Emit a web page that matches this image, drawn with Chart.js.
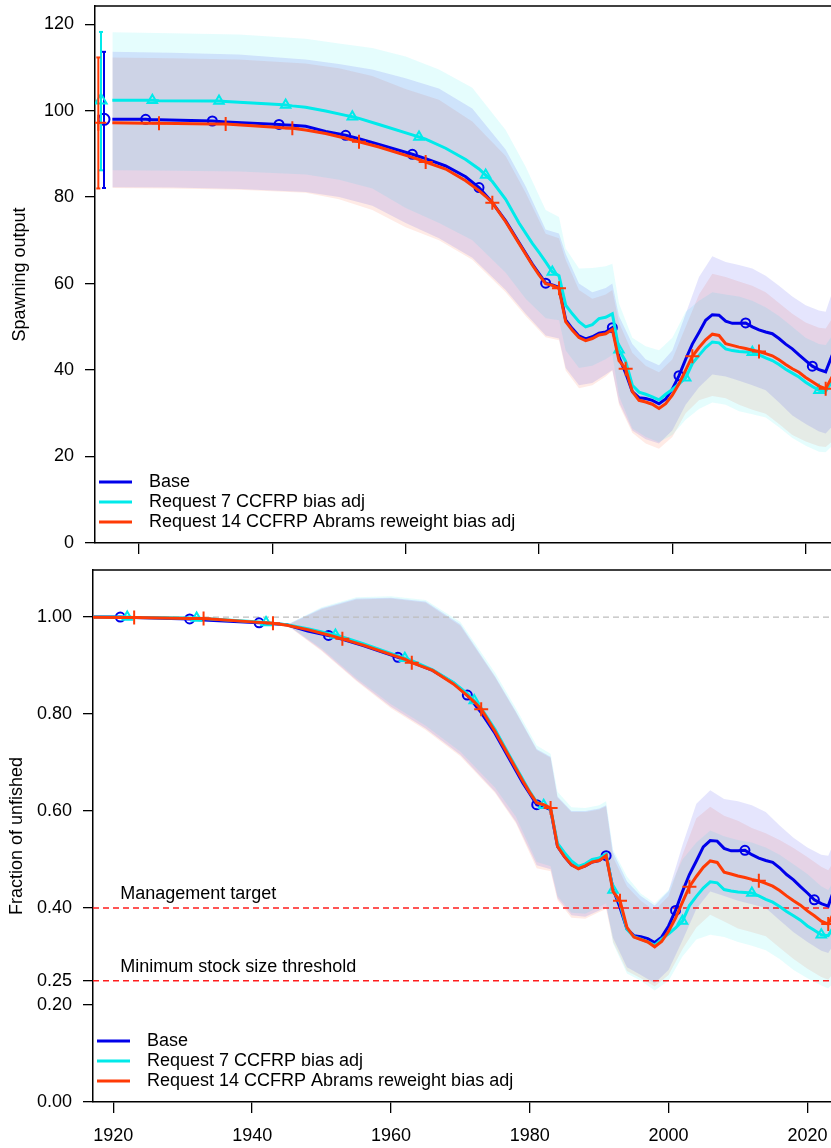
<!DOCTYPE html>
<html>
<head>
<meta charset="utf-8">
<script src="https://cdn.jsdelivr.net/npm/chart.js@4.4.1/dist/chart.umd.min.js"></script>
<style>
  html, body { margin: 0; padding: 0; background: #fff; overflow: hidden; }
  canvas { position: absolute; left: 0; }
  #ssb { top: 0; }
  #dep { top: 560px; }
</style>
</head>
<body>
<canvas id="ssb" width="831" height="560"></canvas>
<canvas id="dep" width="831" height="588"></canvas>
<script>
// ---- data ----
const modelNames = ['Base', 'Request 7 CCFRP bias adj', 'Request 14 CCFRP Abrams reweight bias adj'];

const years = [1916, 1921, 1922, 1923, 1931, 1932, 1933, 1941, 1942, 1943,
  1945, 1948, 1951, 1952, 1953, 1956, 1961, 1962, 1963, 1966,
  1969, 1971, 1972, 1973, 1975, 1977, 1979,
  1980, 1981, 1982, 1983, 1984, 1985, 1986, 1987, 1988, 1989,
  1990, 1991, 1992, 1993, 1994, 1995, 1996, 1997, 1998, 1999,
  2000, 2001, 2002, 2003, 2004, 2005, 2006, 2007, 2008, 2009,
  2010, 2011, 2012, 2013, 2014, 2015, 2016, 2017, 2018, 2019,
  2020, 2021, 2022, 2023, 2024];

// spawning output
const baseSSB = [98.0, 98.0, 97.9, 97.9, 97.6, 97.5, 97.4, 96.8, 96.7, 96.6,
  96.4, 95.2, 94.3, 93.9, 93.5, 92.2, 89.9, 89.4, 88.9, 87.2,
  84.7, 82.2, 80.5, 78.7, 74.5, 69.5, 64.5,
  62.3, 60.1, 59.7, 59.1, 51.6, 49.6, 47.9, 47.2, 47.7, 48.5,
  48.8, 49.8, 43.0, 39.3, 35.0, 33.6, 33.4, 33.0, 32.2, 33.3,
  35.6, 38.7, 42.5, 46.0, 48.7, 51.5, 52.8, 52.7, 51.3, 50.8,
  50.8, 50.9, 50.0, 49.3, 48.8, 48.4, 47.3, 46.0, 44.9, 43.5,
  42.2, 40.9, 40.1, 39.6, 43.5];
const req7SSB = [102.4, 102.4, 102.4, 102.3, 102.2, 102.2, 102.1, 101.4, 101.3, 101.1,
  100.8, 99.9, 98.9, 98.6, 98.2, 96.8, 94.4, 93.9, 93.4, 91.3,
  88.7, 86.5, 85.1, 83.6, 79.5, 74.0, 69.3,
  67.2, 65.0, 62.7, 61.8, 55.0, 53.0, 51.2, 50.0, 50.5, 51.9,
  52.2, 53.0, 44.7, 42.0, 36.5, 34.9, 34.4, 33.8, 33.1, 34.4,
  35.5, 36.8, 38.2, 41.5, 43.4, 45.2, 46.5, 46.3, 44.9, 44.5,
  44.3, 44.2, 44.1, 43.5, 42.8, 42.2, 41.3, 40.2, 39.3, 38.4,
  37.2, 36.2, 35.3, 35.1, 37.5];
const req14SSB = [97.2, 97.1, 97.1, 97.1, 96.9, 96.9, 96.9, 96.1, 96.0, 95.9,
  95.5, 94.7, 93.6, 93.2, 92.8, 91.6, 89.2, 88.7, 88.1, 86.5,
  83.8, 81.5, 80.2, 78.7, 74.3, 69.3, 64.3,
  62.0, 60.0, 59.6, 58.9, 51.2, 49.2, 47.5, 46.8, 47.3, 48.1,
  48.4, 49.4, 42.2, 40.3, 35.0, 33.0, 32.6, 32.1, 31.1, 32.2,
  34.2, 36.8, 40.0, 43.2, 45.2, 47.0, 48.3, 48.0, 46.1, 45.7,
  45.3, 45.0, 44.6, 44.3, 43.8, 43.3, 42.4, 41.3, 40.3, 39.5,
  38.3, 37.3, 36.3, 35.7, 38.5];

// fraction of unfished
const baseDep = [1.000, 1.000, 0.999, 0.999, 0.996, 0.995, 0.994, 0.988, 0.987, 0.986,
  0.984, 0.971, 0.962, 0.958, 0.954, 0.941, 0.917, 0.912, 0.907, 0.890,
  0.864, 0.839, 0.821, 0.803, 0.760, 0.709, 0.658,
  0.636, 0.613, 0.609, 0.603, 0.527, 0.506, 0.489, 0.482, 0.487, 0.495,
  0.498, 0.508, 0.439, 0.401, 0.357, 0.343, 0.341, 0.337, 0.329, 0.340,
  0.363, 0.395, 0.434, 0.469, 0.497, 0.526, 0.539, 0.538, 0.523, 0.518,
  0.518, 0.519, 0.510, 0.503, 0.498, 0.494, 0.483, 0.469, 0.458, 0.444,
  0.431, 0.417, 0.409, 0.404, 0.444];
const req7Dep = [1.000, 1.000, 1.000, 0.999, 0.998, 0.998, 0.997, 0.990, 0.989, 0.987,
  0.984, 0.976, 0.966, 0.963, 0.959, 0.945, 0.920, 0.915, 0.910, 0.891,
  0.865, 0.842, 0.828, 0.812, 0.768, 0.716, 0.665,
  0.640, 0.618, 0.612, 0.604, 0.533, 0.514, 0.497, 0.486, 0.491, 0.500,
  0.503, 0.511, 0.437, 0.410, 0.356, 0.341, 0.336, 0.330, 0.323, 0.336,
  0.347, 0.359, 0.373, 0.405, 0.424, 0.441, 0.454, 0.452, 0.438, 0.435,
  0.433, 0.432, 0.431, 0.425, 0.418, 0.412, 0.403, 0.393, 0.384, 0.375,
  0.363, 0.354, 0.345, 0.343, 0.366];
const req14Dep = [1.000, 0.999, 0.999, 0.999, 0.997, 0.997, 0.997, 0.989, 0.988, 0.987,
  0.983, 0.974, 0.963, 0.959, 0.955, 0.942, 0.918, 0.913, 0.906, 0.890,
  0.862, 0.838, 0.825, 0.810, 0.764, 0.713, 0.662,
  0.638, 0.617, 0.613, 0.606, 0.527, 0.506, 0.489, 0.481, 0.487, 0.495,
  0.498, 0.508, 0.434, 0.415, 0.360, 0.340, 0.335, 0.330, 0.320, 0.331,
  0.352, 0.379, 0.412, 0.444, 0.465, 0.484, 0.497, 0.494, 0.474, 0.470,
  0.466, 0.463, 0.459, 0.456, 0.451, 0.445, 0.436, 0.425, 0.415, 0.406,
  0.394, 0.384, 0.373, 0.367, 0.396];

// 95% intervals
const bandYears = [1916, 1925, 1935, 1945, 1950, 1955, 1960, 1965, 1970, 1975,
  1978, 1981, 1983, 1984, 1986, 1988, 1990, 1991, 1992, 1994,
  1996, 1998, 2000, 2002, 2004, 2006, 2008, 2010, 2012, 2014,
  2016, 2018, 2020, 2022, 2023, 2024];

const baseSSBHi = [113.6, 113.4, 113.0, 111.8, 110.8, 109.5, 107.5, 105.1, 100.5, 91.0,
  82.5, 72.5, 71.6, 66.9, 60.0, 58.0, 59.0, 60.0, 52.5, 46.0,
  42.5, 41.1, 44.5, 53.0, 61.5, 66.3, 65.0, 64.3, 63.5, 61.8,
  59.5, 57.0, 55.0, 53.8, 53.5, 58.0];
const baseSSBLo = [82.3, 82.2, 81.9, 81.2, 80.0, 78.0, 74.0, 70.5, 66.0, 58.5,
  53.0, 48.0, 47.3, 40.5, 36.5, 37.0, 39.0, 40.0, 32.5, 26.0,
  24.0, 23.0, 26.0, 32.0, 36.0, 39.0, 38.5, 37.5, 36.5, 35.3,
  32.5, 29.5, 27.5, 25.8, 25.3, 27.0];
const req7SSBHi = [118.1, 117.9, 117.6, 116.6, 115.5, 114.5, 112.5, 109.5, 105.3, 95.5,
  87.0, 77.0, 75.4, 68.1, 63.5, 63.6, 64.0, 64.6, 55.4, 47.5,
  45.5, 44.6, 47.5, 53.5, 56.0, 58.0, 57.5, 57.0, 56.0, 54.5,
  52.5, 50.0, 47.5, 46.0, 45.8, 48.0];
const req7SSBLo = [86.2, 86.1, 85.9, 85.2, 84.0, 82.0, 77.5, 74.0, 70.0, 62.5,
  56.5, 52.0, 51.5, 44.5, 40.5, 41.0, 42.5, 43.5, 34.0, 26.5,
  24.5, 23.3, 25.0, 28.5, 31.0, 32.5, 32.0, 30.5, 29.8, 29.0,
  26.8, 24.3, 22.5, 21.1, 21.0, 22.5];
const req14SSBHi = [112.3, 112.1, 111.8, 110.9, 109.8, 108.0, 105.0, 102.5, 97.5, 89.5,
  81.0, 71.5, 70.5, 65.5, 58.5, 56.5, 57.5, 58.5, 51.0, 44.0,
  41.0, 39.5, 42.5, 50.0, 57.5, 62.3, 61.5, 60.5, 59.5, 58.0,
  55.5, 53.0, 51.0, 49.8, 49.6, 52.0];
const req14SSBLo = [82.1, 82.0, 81.7, 81.0, 79.5, 77.0, 73.0, 70.0, 65.5, 58.0,
  52.5, 47.6, 46.9, 39.9, 35.8, 36.5, 38.5, 39.9, 32.0, 25.5,
  23.0, 21.8, 24.5, 30.0, 33.0, 34.0, 33.5, 32.0, 30.8, 29.9,
  27.5, 25.0, 23.5, 22.4, 22.2, 23.5];

const baseDepHi = [1.000, 0.998, 0.993, 0.984, 1.018, 1.038, 1.040, 1.032, 0.985, 0.878,
  0.805, 0.728, 0.712, 0.630, 0.600, 0.600, 0.605, 0.612, 0.515, 0.455,
  0.425, 0.405, 0.435, 0.530, 0.615, 0.643, 0.625, 0.620, 0.612, 0.598,
  0.570, 0.545, 0.525, 0.510, 0.508, 0.540];
const baseDepLo = [1.000, 0.998, 0.993, 0.984, 0.932, 0.870, 0.815, 0.770, 0.716, 0.640,
  0.578, 0.488, 0.480, 0.420, 0.385, 0.382, 0.395, 0.402, 0.338, 0.278,
  0.262, 0.245, 0.272, 0.333, 0.398, 0.434, 0.425, 0.415, 0.408, 0.400,
  0.375, 0.350, 0.330, 0.312, 0.307, 0.330];
const req7DepHi = [1.000, 0.999, 0.997, 0.984, 1.020, 1.041, 1.043, 1.035, 0.990, 0.885,
  0.812, 0.735, 0.718, 0.640, 0.608, 0.606, 0.612, 0.620, 0.520, 0.465,
  0.430, 0.410, 0.437, 0.500, 0.535, 0.560, 0.548, 0.540, 0.535, 0.525,
  0.510, 0.490, 0.470, 0.445, 0.437, 0.460];
const req7DepLo = [1.000, 0.999, 0.997, 0.984, 0.935, 0.874, 0.820, 0.776, 0.722, 0.648,
  0.588, 0.495, 0.486, 0.425, 0.390, 0.388, 0.402, 0.410, 0.327, 0.265,
  0.250, 0.230, 0.250, 0.300, 0.335, 0.345, 0.340, 0.330, 0.322, 0.313,
  0.295, 0.272, 0.255, 0.240, 0.234, 0.250];
const req14DepHi = [1.000, 0.999, 0.997, 0.983, 1.016, 1.036, 1.038, 1.030, 0.982, 0.876,
  0.803, 0.726, 0.710, 0.628, 0.598, 0.598, 0.603, 0.610, 0.505, 0.445,
  0.415, 0.395, 0.425, 0.510, 0.585, 0.609, 0.590, 0.580, 0.565, 0.554,
  0.540, 0.524, 0.505, 0.485, 0.478, 0.500];
const req14DepLo = [1.000, 0.999, 0.997, 0.983, 0.930, 0.868, 0.812, 0.767, 0.713, 0.637,
  0.575, 0.482, 0.476, 0.416, 0.380, 0.378, 0.392, 0.398, 0.330, 0.270,
  0.255, 0.238, 0.262, 0.315, 0.360, 0.386, 0.372, 0.358, 0.350, 0.342,
  0.318, 0.295, 0.275, 0.258, 0.252, 0.270];

// unfished spawning output with intervals (plotted just left of the time series)
const virginYears = [1914.75, 1914.3, 1913.9];
const virginSSB = [98.0, 102.4, 97.2];
const virginLo = [82.1, 86.2, 82.0];
const virginHi = [113.6, 118.2, 112.3];

const baseMarks = [1921, 1931, 1941, 1951, 1961, 1971, 1981, 1991, 2001, 2011, 2021];
const req7Marks = [1922, 1932, 1942, 1952, 1962, 1972, 1982, 1992, 2002, 2012, 2022];
const req14Marks = [1923, 1933, 1943, 1953, 1963, 1973, 1983, 1993, 2003, 2013, 2023];

const yearTicks = [1920, 1940, 1960, 1980, 2000, 2020];
const ssbTicks = [0, 20, 40, 60, 80, 100, 120];
const depTicks = [0, 0.2, 0.25, 0.4, 0.6, 0.8, 1.0];

const refLevels = [1.0, 0.4, 0.25];
const refLabels = ['', 'Management target', 'Minimum stock size threshold'];

// ---- styling ----
const FONT = '"Liberation Sans", Arial, Helvetica, sans-serif';
const lineColors = ['#0000EA', '#00EAEA', '#FF3A05'];
const shadeColors = ['rgba(0,0,234,0.1)', 'rgba(0,234,234,0.1)', 'rgba(255,58,5,0.1)'];
const markStyles = ['circle', 'triangle', 'cross'];
const markRadius = [4.5, 5.5, 7];
const marks = [baseMarks, req7Marks, req14Marks];

Chart.defaults.font.family = FONT;
Chart.defaults.font.size = 18;
Chart.defaults.color = '#000';

const pts = (xs, ys) => xs.map((x, i) => ({ x: x, y: ys[i] }));

function seriesDatasets(lines, bands) {
  const ds = [];
  bands.forEach((b, i) => {
    ds.push({ data: pts(bandYears, b[0]), borderColor: 'rgba(0,0,0,0)', borderWidth: 0, pointRadius: 0, fill: false, order: 20 });
    ds.push({ data: pts(bandYears, b[1]), borderColor: 'rgba(0,0,0,0)', borderWidth: 0, pointRadius: 0, fill: '-1', backgroundColor: shadeColors[i], order: 20 });
  });
  lines.forEach((l, i) => {
    ds.push({
      data: pts(years, l),
      borderColor: lineColors[i], borderWidth: 3, tension: 0,
      pointStyle: markStyles[i],
      pointRadius: ctx => (ctx.raw && marks[i].includes(ctx.raw.x)) ? markRadius[i] : 0,
      pointBorderWidth: 2, pointBorderColor: lineColors[i], pointBackgroundColor: 'rgba(0,0,0,0)',
      fill: false, order: 3 - i
    });
  });
  return ds;
}

function xAxis(min, max, showLabels, height) {
  return {
    type: 'linear', min: min, max: max,
    afterBuildTicks: s => { s.ticks = yearTicks.map(v => ({ value: v })); },
    afterFit: s => { s.height = height; s.paddingLeft = 0; s.paddingRight = 0; },
    ticks: { display: showLabels, autoSkip: false, maxRotation: 0, padding: 12, callback: v => String(v) },
    grid: { drawOnChartArea: false, drawTicks: true, tickLength: 11, color: '#000', lineWidth: 1.3 },
    border: { display: true, color: '#000', width: 1.5 }
  };
}

function yAxis(min, max, tickVals, fmt, title, width, titlePad) {
  return {
    type: 'linear', min: min, max: max,
    afterBuildTicks: s => { s.ticks = tickVals.map(v => ({ value: v })); },
    afterFit: s => { s.width = width; s.paddingTop = 0; s.paddingBottom = 0; },
    ticks: { autoSkip: false, padding: 11, callback: fmt },
    grid: { drawOnChartArea: false, drawTicks: true, tickLength: 10, color: '#000', lineWidth: 1.3 },
    border: { display: true, color: '#000', width: 1.5 },
    title: { display: true, text: title, font: { size: 18 }, padding: { top: titlePad, bottom: 0 } }
  };
}

const framePlugin = {
  id: 'frameLegend',
  afterDatasetsDraw(chart) {
    const { ctx, chartArea: a } = chart;
    ctx.save();
    ctx.strokeStyle = '#000';
    ctx.lineWidth = 1.5;
    ctx.beginPath(); ctx.moveTo(a.left, a.top); ctx.lineTo(a.right, a.top); ctx.stroke();
    ctx.font = '18px ' + FONT;
    ctx.textBaseline = 'middle';
    ctx.fillStyle = '#000';
    modelNames.forEach((name, i) => {
      const y = a.bottom - 61 + i * 20;
      ctx.strokeStyle = lineColors[i];
      ctx.lineWidth = 3;
      ctx.beginPath(); ctx.moveTo(a.left + 4, y); ctx.lineTo(a.left + 37, y); ctx.stroke();
      ctx.fillText(name, a.left + 54, y);
    });
    ctx.restore();
  }
};

const refLabelPlugin = {
  id: 'refLabels',
  afterDatasetsDraw(chart) {
    const { ctx, scales } = chart;
    ctx.save();
    ctx.font = '18px ' + FONT;
    ctx.fillStyle = '#000';
    ctx.textBaseline = 'alphabetic';
    refLevels.forEach((v, i) => {
      if (!refLabels[i]) return;
      ctx.fillText(refLabels[i], scales.x.getPixelForValue(1921), scales.y.getPixelForValue(v) - 9);
    });
    ctx.restore();
  }
};

const common = {
  responsive: false, animation: false, devicePixelRatio: 1, events: [],
  plugins: { legend: { display: false }, tooltip: { enabled: false } }
};

// ---- top panel: spawning output ----
const ssbDatasets = seriesDatasets(
  [baseSSB, req7SSB, req14SSB],
  [[baseSSBLo, baseSSBHi], [req7SSBLo, req7SSBHi], [req14SSBLo, req14SSBHi]]
);
virginYears.forEach((vx, i) => {
  ssbDatasets.push({
    data: [{ x: vx, y: virginLo[i] }, { x: vx, y: virginHi[i] }],
    borderColor: lineColors[i], borderWidth: 2, pointStyle: 'line', pointRadius: 2,
    pointBorderColor: lineColors[i], pointBorderWidth: 2, fill: false, order: 3 - i
  });
  ssbDatasets.push({
    data: [{ x: vx, y: virginSSB[i] }], showLine: false,
    pointStyle: markStyles[i], pointRadius: markRadius[i] + 1, pointBorderWidth: 2,
    pointBorderColor: lineColors[i], pointBackgroundColor: 'rgba(0,0,0,0)', order: 3 - i
  });
});

new Chart(document.getElementById('ssb'), {
  type: 'line',
  data: { datasets: ssbDatasets },
  options: Object.assign({}, common, {
    layout: { autoPadding: false, padding: { top: 6, left: 0, right: 0, bottom: 0 } },
    scales: {
      x: xAxis(1913.4, 2023.8, false, 17),
      y: yAxis(0, 124.2, ssbTicks, v => String(v), 'Spawning output', 95, 9)
    }
  }),
  plugins: [framePlugin]
});

// ---- bottom panel: fraction of unfished ----
const depDatasets = seriesDatasets(
  [baseDep, req7Dep, req14Dep],
  [[baseDepLo, baseDepHi], [req7DepLo, req7DepHi], [req14DepLo, req14DepHi]]
);
const xMinDep = 1917.07, xMaxDep = 2023.4;
refLevels.forEach((v, i) => {
  depDatasets.push({
    data: [{ x: xMinDep, y: v }, { x: xMaxDep, y: v }],
    borderColor: i === 0 ? '#BDBDBD' : '#FF1E1E', borderWidth: 1.3, borderDash: [6, 4],
    pointRadius: 0, fill: false, order: 5
  });
});

new Chart(document.getElementById('dep'), {
  type: 'line',
  data: { datasets: depDatasets },
  options: Object.assign({}, common, {
    layout: { autoPadding: false, padding: { top: 10, left: 0, right: 0, bottom: 0 } },
    scales: {
      x: xAxis(xMinDep, xMaxDep, true, 46),
      y: yAxis(0, 1.097, depTicks, v => v.toFixed(2), 'Fraction of unfished', 93, 6)
    }
  }),
  plugins: [framePlugin, refLabelPlugin]
});
</script>
</body>
</html>
